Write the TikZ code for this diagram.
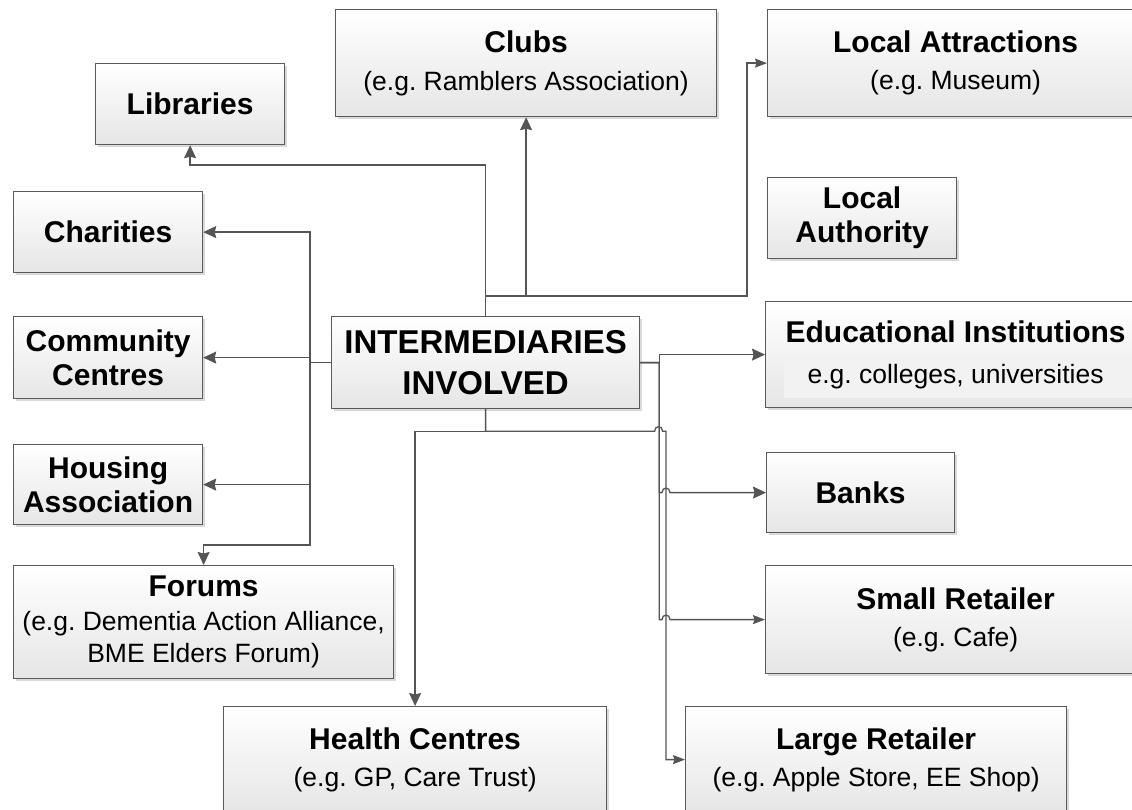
\documentclass[tikz,border=0pt]{standalone}
\usepackage{fontspec}
\setmainfont{Liberation Sans}
\usetikzlibrary{arrows.meta,shadows,calc}

\definecolor{linegray}{HTML}{555555}
\definecolor{edgegray}{HTML}{5A5A5A}
\newcommand{\subtxt}[1]{{\mdseries\fontsize{26.5}{34}\selectfont #1}}
\frenchspacing

\begin{document}
\begin{tikzpicture}[x=1pt,y=-1pt,
    box/.style={draw=edgegray, line width=1.2pt, top color=white, bottom color=gray!20,
      drop shadow={shadow xshift=2pt,shadow yshift=-2pt,fill=black,opacity=.15},
      anchor=north west, inner sep=0pt, align=center, text=black,
      font=\fontsize{30}{34}\selectfont\bfseries},
    conn/.style={draw=linegray, line width=1.3pt},
    arr/.style={conn, -{Stealth[length=13pt,width=12pt,inset=1.5pt]}},
    arrs/.style={conn, -{Stealth[length=12pt,width=9pt,inset=1.5pt]}}]
  \useasboundingbox (0,0) rectangle (1132,810);
  \fill[white] (0,0) rectangle (1132,810);
  \clip (0,0) rectangle (1132,810);

  \node[box, minimum width=308pt, minimum height=92pt,
    font=\fontsize{33}{41}\selectfont\bfseries] (hub) at (331,316) {INTERMEDIARIES\\INVOLVED};

  \node[box, minimum width=189pt, minimum height=81pt] (lib) at (95,63) {Libraries};
  \node[box, minimum width=381pt, minimum height=107pt] (clubs) at (335,9)
    {Clubs\\[4pt]\subtxt{(e.g. Ramblers Association)}};
  \node[box, minimum width=376pt, minimum height=107pt] (attr) at (767,9)
    {Local Attractions\\[3pt]\subtxt{(e.g. Museum)}};
  \node[box, minimum width=189pt, minimum height=81pt] (auth) at (767,177) {Local\\Authority};
  \node[box, minimum width=380pt, minimum height=106pt,
    path picture={\fill[gray!10] ([xshift=18pt,yshift=-60pt]path picture bounding box.north west)
      rectangle ([yshift=10pt]path picture bounding box.south east);}] (edu) at (765,301)
    {Educational Institutions\\[7pt]\subtxt{e.g. colleges, universities}};
  \node[box, minimum width=188pt, minimum height=80pt] (banks) at (766,452) {Banks};
  \node[box, minimum width=380pt, minimum height=108pt] (small) at (765,565)
    {Small Retailer\\[3pt]\subtxt{(e.g. Cafe)}};
  \node[box, minimum width=381pt, minimum height=106pt] (large) at (685,706)
    {Large Retailer\\[3pt]\subtxt{(e.g. Apple Store, EE Shop)}};
  \node[box, minimum width=383pt, minimum height=106pt] (health) at (223,706)
    {Health Centres\\[3pt]\subtxt{(e.g. GP, Care Trust)}};

  \node[box, minimum width=189pt, minimum height=81pt] (char) at (13,191) {Charities};
  \node[box, minimum width=189pt, minimum height=82pt] (comm) at (13,316) {Community\\Centres};
  \node[box, minimum width=189pt, minimum height=80pt] (house) at (13,444) {Housing\\Association};
  \node[box, minimum width=380pt, minimum height=113pt] (forum) at (13,565)
    {Forums\\\subtxt{(e.g. Dementia Action Alliance,}\\[-2pt]\subtxt{BME Elders Forum)}};

  % left
  \draw[arr] (hub.west) -- ++(-21,0) |- (char.east);
  \draw[arr] (hub.west) -- ++(-21,0) |- (comm.east);
  \draw[arr] (hub.west) -- ++(-21,0) |- (house.east);
  \draw[arr] (hub.west) -- ++(-21,0) |- ($(forum.north)+(0,-20)$) -- (forum.north);

  % top
  \draw[arr] (hub.north) -- ++(0,-151) -| (lib.south);
  \draw[arr] (hub.north) -- ++(0,-20) -| (clubs.south);
  \draw[arrs] (hub.north) -- ++(0,-20) -| ($(attr.west)+(-20,0)$) -- (attr.west);

  % right
  \draw[arr] (hub.east) -- ++(19,0) |- (edu.west);
  \draw[arr] (hub.east) -- ++(19,0) |- ($(banks.west)+(-104,0)$)
    .. controls +(0,-6) and +(0,-6) .. ++(8,0) -- (banks.west);
  \draw[arrs] (hub.east) -- ++(19,0) |- ($(small.west)+(-103,0)$)
    .. controls +(0,-6) and +(0,-6) .. ++(8,0) -- (small.west);

  % bottom
  \draw[arr] (hub.south) -- ++(0,22) -| (health.north);
  \draw[arrs] (hub.south) -- ++(0,22) -- ++(169,0)
    .. controls +(0,-6) and +(0,-6) .. ++(8,0) -| ($(large.west)+(-19,0)$) -- (large.west);
\end{tikzpicture}
\end{document}
